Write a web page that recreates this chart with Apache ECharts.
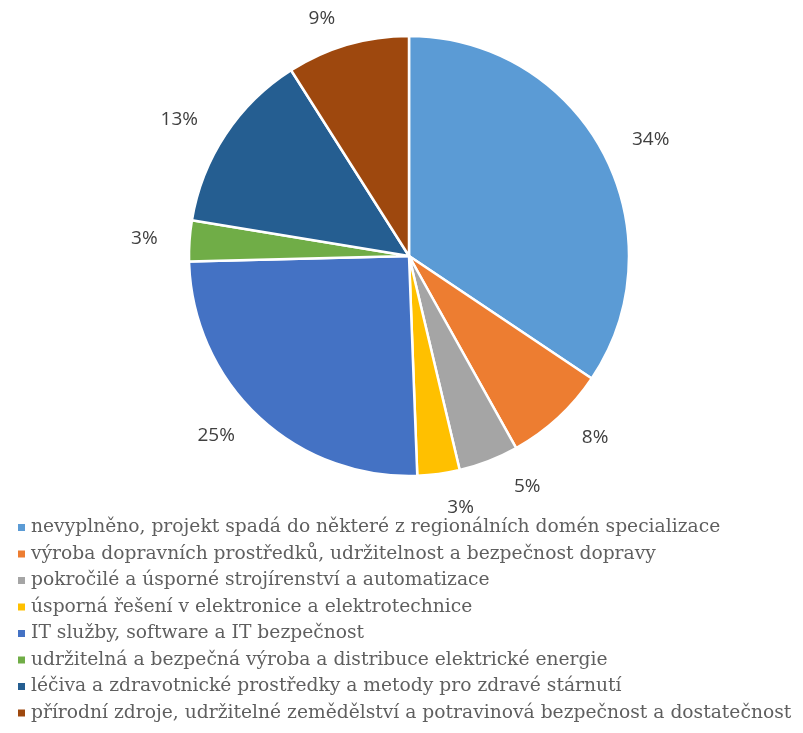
<!DOCTYPE html>
<html>
<head>
<meta charset="utf-8">
<script src="https://cdn.jsdelivr.net/npm/echarts@6/dist/echarts.min.js"></script>
<style>
  html, body { margin: 0; padding: 0; background: #fff; }
  #chart { width: 803px; height: 733px; }
</style>
</head>
<body>
<div id="chart"></div>
<script>
var categories = [
    'nevyplněno, projekt spadá do některé z regionálních domén specializace',
    'výroba dopravních prostředků, udržitelnost a bezpečnost dopravy',
    'pokročilé a úsporné strojírenství a automatizace',
    'úsporná řešení v elektronice a elektrotechnice',
    'IT služby, software a IT bezpečnost',
    'udržitelná a bezpečná výroba a distribuce elektrické energie',
    'léčiva a zdravotnické prostředky a metody pro zdravé stárnutí',
    'přírodní zdroje, udržitelné zemědělství a potravinová bezpečnost a dostatečnost'
];
var values = [34.4, 7.5, 4.4, 3.1, 25.2, 3.0, 13.4, 9.0];
var colors = ['#5B9BD5', '#ED7D31', '#A5A5A5', '#FFC000', '#4472C4', '#70AD47', '#255E91', '#9E480E'];

var myChart = echarts.init(document.getElementById('chart'));
var pieData = [];
for (var i = 0; i < categories.length; i++) {
    pieData.push({ name: categories[i], value: values[i], itemStyle: { color: colors[i] } });
}

var option = {
    animation: false,
    legend: {
        orient: 'vertical',
        left: 11,
        top: 513,
        height: 218,
        icon: 'rect',
        itemWidth: 9,
        itemHeight: 9,
        itemGap: 7.5,
        textStyle: {
            fontFamily: 'DejaVu Serif',
            fontSize: 18.7,
            color: '#5f5f5f'
        },
        data: categories
    },
    series: [
        {
            type: 'pie',
            center: [409, 256],
            radius: 220,
            startAngle: 90,
            percentPrecision: 0,
            itemStyle: { borderColor: '#fff', borderWidth: 2.5 },
            label: {
                position: 'outside',
                formatter: '{d}%',
                fontFamily: 'Open Sans',
                fontSize: 19,
                color: '#404040'
            },
            labelLine: { show: false, length: 27, length2: 0 },
            data: pieData
        }
    ]
};
myChart.setOption(option);
</script>
</body>
</html>
